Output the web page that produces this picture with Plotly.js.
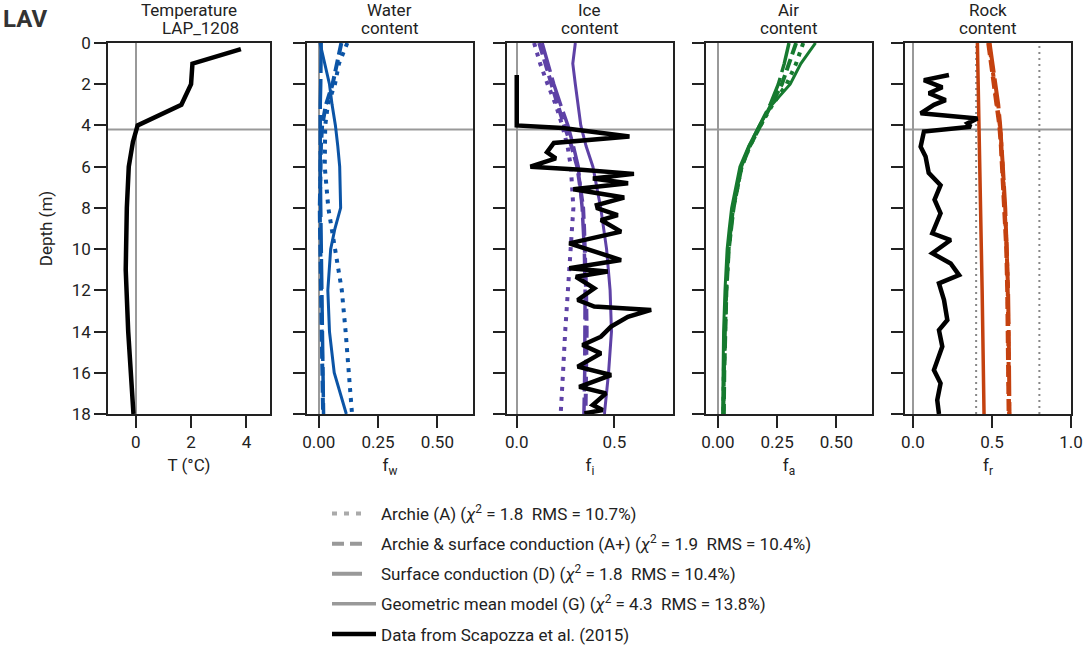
<!DOCTYPE html>
<html>
<head>
<meta charset="utf-8">
<script src="https://cdn.plot.ly/plotly-3.0.1.min.js"></script>
<style>
  html, body { margin: 0; padding: 0; background: #ffffff; }
  #myDiv { width: 1084px; height: 648px; }
</style>
</head>
<body>
<div id="myDiv"></div>
<script>
// ---- data ----
// temperature profile LAP_1208
var tempDepth = [0.3, 1.0, 2.0, 3.0, 4.0, 4.8, 6.0, 8.0, 11.0, 14.0, 18.0];
var tempValue = [3.8, 2.05, 2.0, 1.65, 0.07, -0.1, -0.25, -0.32, -0.36, -0.27, -0.08];

// depth grid of the model curves
var modelDepth = [0, 1, 2, 3, 4, 5, 6, 8, 9, 10, 12, 14, 16, 18];

// water content
var waterA  = [0.12, 0.085, 0.068, 0.038, 0.027, 0.024, 0.025, 0.04, 0.055, 0.07, 0.097, 0.113, 0.125, 0.14];
var waterAp = [0.095, 0.078, 0.058, 0.03, 0.014, 0.009, 0.006, 0.004, 0.005, 0.007, 0.01, 0.012, 0.015, 0.018];
var waterD  = [0.01, 0.01, 0.008, 0.006, 0.005, 0.005, 0.006, 0.008, 0.009, 0.01, 0.012, 0.014, 0.016, 0.02];
var waterG  = [0.005, 0.025, 0.045, 0.056, 0.07, 0.08, 0.088, 0.092, 0.068, 0.05, 0.038, 0.045, 0.065, 0.116];

// ice content
var iceA  = [0.089, 0.12, 0.158, 0.2, 0.233, 0.26, 0.277, 0.29, 0.283, 0.275, 0.26, 0.248, 0.237, 0.225];
var iceAp = [0.115, 0.145, 0.175, 0.21, 0.243, 0.28, 0.31, 0.34, 0.345, 0.35, 0.355, 0.358, 0.356, 0.352];
var iceD  = [0.13, 0.16, 0.19, 0.225, 0.262, 0.29, 0.315, 0.335, 0.342, 0.346, 0.35, 0.35, 0.348, 0.344];
var iceG  = [0.30, 0.287, 0.30, 0.315, 0.328, 0.355, 0.39, 0.43, 0.445, 0.46, 0.478, 0.485, 0.47, 0.449];

// air content
var airA  = [0.36, 0.33, 0.29, 0.23, 0.18, 0.135, 0.1, 0.065, 0.055, 0.045, 0.035, 0.028, 0.025, 0.023];
var airAp = [0.33, 0.30, 0.27, 0.225, 0.178, 0.135, 0.1, 0.066, 0.056, 0.046, 0.036, 0.03, 0.027, 0.025];
var airD  = [0.30, 0.28, 0.255, 0.22, 0.176, 0.133, 0.099, 0.065, 0.055, 0.045, 0.035, 0.029, 0.026, 0.024];
var airG  = [0.412, 0.35, 0.305, 0.228, 0.175, 0.13, 0.093, 0.058, 0.048, 0.039, 0.03, 0.024, 0.022, 0.02];

// rock content
var rockA  = [0.482, 0.5, 0.52, 0.538, 0.55, 0.56, 0.567, 0.582, 0.588, 0.594, 0.6, 0.604, 0.607, 0.609];
var rockAp = [0.478, 0.497, 0.517, 0.535, 0.548, 0.558, 0.565, 0.58, 0.586, 0.592, 0.598, 0.602, 0.605, 0.607];
var rockD  = [0.485, 0.503, 0.523, 0.54, 0.552, 0.562, 0.569, 0.584, 0.59, 0.596, 0.602, 0.606, 0.609, 0.611];
var rockG  = [0.408, 0.41, 0.413, 0.415, 0.418, 0.42, 0.423, 0.428, 0.43, 0.433, 0.438, 0.442, 0.446, 0.45];

// Scapozza et al. (2015) ice and rock content
var iceDataDepth = [1.55, 4.0, 4.12, 4.54, 4.85, 5.3, 5.6, 6.0, 6.15, 6.35, 6.57, 6.8, 7.1, 7.5, 7.86, 8.02,
                    8.35, 8.59, 9.15, 9.72, 10.53, 10.93, 11.09, 11.34, 11.9, 12.47, 12.79, 12.95, 13.28,
                    13.76, 14.25, 14.65, 15.06, 15.7, 16.11, 16.68, 17.0, 17.56, 17.81, 17.97];
var iceDataValue = [0.0, 0.0, 0.235, 0.577, 0.19, 0.155, 0.2, 0.07, 0.33, 0.6, 0.39, 0.57, 0.29, 0.55, 0.41,
                    0.414, 0.517, 0.431, 0.534, 0.269, 0.534, 0.269, 0.466, 0.303, 0.397, 0.312, 0.397, 0.688,
                    0.569, 0.483, 0.431, 0.337, 0.431, 0.312, 0.483, 0.32, 0.457, 0.389, 0.44, 0.346];
var rockDataDepth = [1.55, 1.8, 2.15, 2.44, 2.77, 3.0, 3.41, 3.66, 3.9, 4.06, 4.3, 5.03, 5.5, 6.3, 6.9,
                     7.6, 8.26, 9.23, 9.56, 10.2, 10.7, 11.26, 11.66, 12.47, 13.44, 13.93, 14.73, 15.87, 16.51,
                     17.32, 18.0];
var rockDataValue = [0.228, 0.07, 0.186, 0.101, 0.207, 0.133, 0.049, 0.408, 0.345, 0.366, 0.07, 0.049,
                     0.08, 0.1, 0.175, 0.137, 0.175, 0.123, 0.239, 0.123, 0.239, 0.292, 0.165, 0.197, 0.218,
                     0.165, 0.186, 0.133, 0.175, 0.154, 0.165];

var permafrostTop = 4.2;
var rockGuides = [0.4, 0.8];

var legendNames = [
  'Archie (A) (<i>χ</i><sup>2</sup> = 1.8&nbsp; RMS = 10.7%)',
  'Archie &amp; surface conduction (A+) (<i>χ</i><sup>2</sup> = 1.9&nbsp; RMS = 10.4%)',
  'Surface conduction (D) (<i>χ</i><sup>2</sup> = 1.8&nbsp; RMS = 10.4%)',
  'Geometric mean model (G) (<i>χ</i><sup>2</sup> = 4.3&nbsp; RMS = 13.8%)',
  'Data from Scapozza et al. (2015)'
];

// ---- styles ----
var FONT = 'Roboto, "DejaVu Sans", sans-serif';
var FS = 17;
var TXT = '#222222';
var GREY = '#999999';
var C_WATER = '#0b54a6';
var C_ICE = '#5e41a6';
var C_AIR = '#167a2f';
var C_ROCK = '#c4410f';
var DOT = '4px,6px';
var DASH = '12px,5px';
var LONGDASH = '30px,6px';

function modelTrace(x, xa, ya, color, dash, width) {
  return { x: x, y: modelDepth, xaxis: xa, yaxis: ya, type: 'scatter', mode: 'lines',
           showlegend: false, hoverinfo: 'skip',
           line: { color: color, dash: dash, width: width } };
}
function dataTrace(x, y, xa, ya) {
  return { x: x, y: y, xaxis: xa, yaxis: ya, type: 'scatter', mode: 'lines', showlegend: false,
           line: { color: '#000000', width: 4.5 } };
}
// legend keys only (no marks), dash patterns cut to the key length
function keyTrace(i, color, dash, width) {
  return { x: [null], y: [null], xaxis: 'x', yaxis: 'y', type: 'scatter', mode: 'lines',
           name: legendNames[i], legendgroup: 'g' + i, showlegend: true,
           line: { color: color, dash: dash, width: width } };
}

var data = [
  { x: tempValue, y: tempDepth, xaxis: 'x', yaxis: 'y', type: 'scatter', mode: 'lines', showlegend: false,
    line: { color: '#000000', width: 4.5 } },

  modelTrace(waterD, 'x2', 'y2', C_WATER, LONGDASH, 3.5),
  modelTrace(waterAp, 'x2', 'y2', C_WATER, DASH, 4),
  modelTrace(waterA, 'x2', 'y2', C_WATER, DOT, 4),
  modelTrace(waterG, 'x2', 'y2', C_WATER, 'solid', 3),

  modelTrace(iceD, 'x3', 'y3', C_ICE, LONGDASH, 3.5),
  modelTrace(iceAp, 'x3', 'y3', C_ICE, DASH, 4),
  modelTrace(iceA, 'x3', 'y3', C_ICE, DOT, 4),
  modelTrace(iceG, 'x3', 'y3', C_ICE, 'solid', 3),
  dataTrace(iceDataValue, iceDataDepth, 'x3', 'y3'),

  modelTrace(airD, 'x4', 'y4', C_AIR, LONGDASH, 3.5),
  modelTrace(airAp, 'x4', 'y4', C_AIR, DASH, 4),
  modelTrace(airA, 'x4', 'y4', C_AIR, DOT, 4),
  modelTrace(airG, 'x4', 'y4', C_AIR, 'solid', 3),

  modelTrace(rockD, 'x5', 'y5', C_ROCK, LONGDASH, 4),
  modelTrace(rockAp, 'x5', 'y5', C_ROCK, DASH, 4.5),
  modelTrace(rockA, 'x5', 'y5', C_ROCK, DOT, 4),
  modelTrace(rockG, 'x5', 'y5', C_ROCK, 'solid', 3.5),
  dataTrace(rockDataValue, rockDataDepth, 'x5', 'y5'),

  keyTrace(0, '#aaaaaa', '5px,7px,5px,7px,5px,200px', 4),
  keyTrace(1, GREY, '12px,6px,12px,200px', 4),
  keyTrace(2, GREY, '30px,200px', 4),
  keyTrace(3, GREY, 'solid', 3.5),
  keyTrace(4, '#000000', 'solid', 4.5)
];

function xAxis(domain, range, dtick, fmt, title, anchor) {
  return {
    domain: domain, range: range, anchor: anchor, dtick: dtick, tick0: 0, tickformat: fmt,
    showline: true, linecolor: TXT, linewidth: 1.5, mirror: true,
    ticks: 'outside', ticklen: 12, tickwidth: 1.5, tickcolor: TXT,
    showgrid: false, zeroline: true, zerolinecolor: GREY, zerolinewidth: 2,
    tickfont: { size: FS, color: TXT },
    title: { text: title, font: { size: FS, color: TXT }, standoff: 8 },
    fixedrange: true
  };
}
function yAxis(anchor, labels) {
  var ax = {
    anchor: anchor, range: [18, 0], dtick: 2, tick0: 0,
    showline: true, linecolor: TXT, linewidth: 1.5, mirror: true,
    ticks: 'outside', ticklen: 12, tickwidth: 1.5, tickcolor: TXT,
    showgrid: false, zeroline: false, showticklabels: labels,
    tickfont: { size: FS, color: TXT }, fixedrange: true
  };
  if (labels) {
    ax.title = { text: 'Depth (m)', font: { size: FS, color: TXT }, standoff: 15 };
  } else {
    ax.matches = 'y';
  }
  return ax;
}

var doms = [[0, 0.1682], [0.2066, 0.379], [0.4143, 0.5867], [0.621, 0.7933], [0.8276, 1]];
var titleTop = ['Temperature', 'Water', 'Ice', 'Air', 'Rock'];
var titleBottom = ['LAP_1208', 'content', 'content', 'content', 'content'];

// pixel position of the figure -> paper coords of the plot area
function px(p) { return (p - 108) / 963; }
function py(p) { return (414 - p) / 371; }

var shapes = [];
var annotations = [];
['x', 'x2', 'x3', 'x4', 'x5'].forEach(function(xa, i) {
  var ya = i === 0 ? 'y' : 'y' + (i + 1);
  shapes.push({ type: 'line', layer: 'below', xref: xa + ' domain', yref: ya,
                x0: 0, x1: 1, y0: permafrostTop, y1: permafrostTop,
                line: { color: GREY, width: 2 } });
  var cx = (doms[i][0] + doms[i][1]) / 2;
  annotations.push({ text: titleTop[i], showarrow: false, xref: 'paper', yref: 'paper',
                     x: cx, y: py(10.5), xanchor: 'center', yanchor: 'middle',
                     font: { size: FS, color: TXT } });
  // the station name is right-aligned under "Temperature"
  annotations.push({ text: titleBottom[i], showarrow: false, xref: 'paper', yref: 'paper',
                     x: i === 0 ? px(241) : cx, y: py(28.5),
                     xanchor: i === 0 ? 'right' : 'center', yanchor: 'middle',
                     font: { size: FS, color: TXT } });
});
rockGuides.forEach(function(g) {
  shapes.push({ type: 'line', layer: 'below', xref: 'x5', yref: 'y5 domain',
                x0: g, x1: g, y0: 0, y1: 1, line: { color: '#888888', width: 2, dash: '2px,4px' } });
});
annotations.push({ text: '<b>LAV</b>', showarrow: false, xref: 'paper', yref: 'paper',
                   x: px(1), y: py(19), xanchor: 'left', yanchor: 'middle',
                   font: { size: 24, color: '#333333' } });

var layout = {
  width: 1084, height: 648,
  paper_bgcolor: '#ffffff', plot_bgcolor: '#ffffff',
  font: { family: FONT, color: TXT, size: FS },
  margin: { l: 108, r: 13, t: 43, b: 234 },
  showlegend: true,
  legend: { xref: 'paper', yref: 'container', x: px(327), y: 1 - 496 / 648,
            xanchor: 'left', yanchor: 'top', orientation: 'v', itemwidth: 44,
            traceorder: 'grouped', tracegroupgap: 5, bgcolor: 'rgba(0,0,0,0)',
            font: { size: FS, color: TXT } },
  xaxis: xAxis(doms[0], [-1, 4.85], 2, '', 'T (°C)', 'y'),
  xaxis2: xAxis(doms[1], [-0.05, 0.65], 0.25, '.2f', 'f<sub>w</sub>', 'y2'),
  xaxis3: xAxis(doms[2], [-0.05, 0.8], 0.5, '.1f', 'f<sub>i</sub>', 'y3'),
  xaxis4: xAxis(doms[3], [-0.05, 0.65], 0.25, '.2f', 'f<sub>a</sub>', 'y4'),
  xaxis5: xAxis(doms[4], [-0.05, 1.0], 0.5, '.1f', 'f<sub>r</sub>', 'y5'),
  yaxis: yAxis('x', true),
  yaxis2: yAxis('x2', false),
  yaxis3: yAxis('x3', false),
  yaxis4: yAxis('x4', false),
  yaxis5: yAxis('x5', false),
  shapes: shapes,
  annotations: annotations
};

var config = { displayModeBar: false, responsive: false };

Plotly.newPlot('myDiv', data, layout, config);
</script>
</body>
</html>
